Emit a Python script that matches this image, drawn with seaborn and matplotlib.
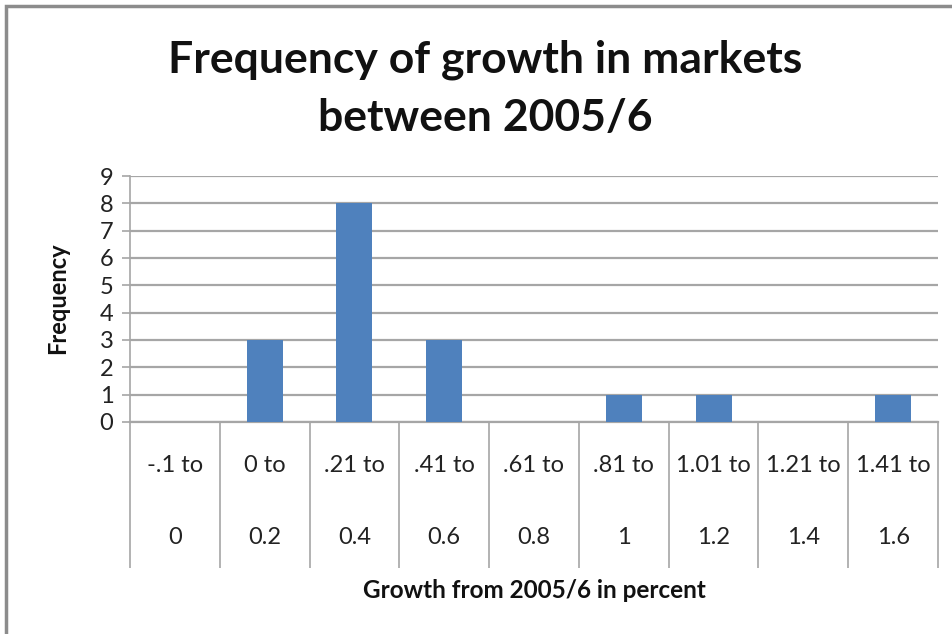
import numpy as np
import pandas as pd
import seaborn as sns
import matplotlib
matplotlib.use("Agg")
import matplotlib.pyplot as plt
import matplotlib.transforms as mtrans
from matplotlib.patches import Rectangle

range_low = ["-.1 to", "0 to", ".21 to", ".41 to", ".61 to", ".81 to", "1.01 to", "1.21 to", "1.41 to"]
range_high = ["0", "0.2", "0.4", "0.6", "0.8", "1", "1.2", "1.4", "1.6"]
frequency = [0, 3, 8, 3, 0, 1, 1, 0, 1]
y_ticks = list(range(0, 10))

sns.set_theme(style="white")
plt.rcParams['font.family'] = ['Lato', 'DejaVu Sans']

W, H = 953, 634
fig = plt.figure(figsize=(W / 100, H / 100), dpi=100)
L, R, T, B = 130, 938, 176, 422
ax = fig.add_axes([L / W, 1 - B / H, (R - L) / W, (B - T) / H])

df = pd.DataFrame({"cat": [f"{a} {b}" for a, b in zip(range_low, range_high)], "freq": frequency})
sns.barplot(data=df, x="cat", y="freq", color="#4F81BD", width=0.4, saturation=1, ax=ax,
            zorder=3, linewidth=0)

ax.set_xlim(-0.5, len(frequency) - 0.5)
ax.set_ylim(0, 9)
ax.set_yticks(y_ticks)
ax.set_yticklabels([str(v) for v in y_ticks], fontsize=17, color="#222222")
ax.yaxis.grid(True, color="#a6a6a6", linewidth=1.6, zorder=0)
ax.tick_params(axis="y", length=6, width=1.2, color="#a6a6a6", pad=6, left=True)

# category separators as long outward ticks
bounds = np.arange(-0.5, len(frequency), 1.0)
ax.set_xticks(bounds)
ax.set_xticklabels([""] * len(bounds))
ax.tick_params(axis="x", length=146 * 0.72, width=1.2, color="#a6a6a6", bottom=True, direction="out")

for s in ["top", "right"]:
    ax.spines[s].set_visible(False)
ax.spines["left"].set_color("#a6a6a6")
ax.spines["left"].set_linewidth(1.2)
ax.spines["bottom"].set_color("#a6a6a6")
ax.spines["bottom"].set_linewidth(1.6)

trans = mtrans.blended_transform_factory(ax.transData, fig.transFigure)
for i, (a, b) in enumerate(zip(range_low, range_high)):
    ax.text(i, 1 - 465 / H, a, transform=trans, ha="center", va="center", fontsize=17, color="#222222")
    ax.text(i, 1 - 538 / H, b, transform=trans, ha="center", va="center", fontsize=17, color="#222222")

ax.set_xlabel("")
ax.set_ylabel("")
fig.text(534 / W, 1 - 590 / H, "Growth from 2005/6 in percent", ha="center", va="center",
         fontsize=17.5, fontweight="bold", color="#111111")
fig.text(58 / W, 1 - 298 / H, "Frequency", ha="center", va="center", rotation=90,
         fontsize=17, fontweight="bold", color="#111111")
fig.text(485 / W, 1 - 60 / H, "Frequency of growth in markets", ha="center", va="center",
         fontsize=32, fontweight="bold", color="#111111")
fig.text(485 / W, 1 - 118 / H, "between 2005/6", ha="center", va="center",
         fontsize=32, fontweight="bold", color="#111111")

# outer chart border (left and top visible)
fig.patches.append(Rectangle((6 / W, -0.05), 1.2, 1 - 6 / H + 0.05, transform=fig.transFigure,
                             fill=False, edgecolor="#8c8c8c", linewidth=2.5))

fig.savefig("out.png", dpi=100)
